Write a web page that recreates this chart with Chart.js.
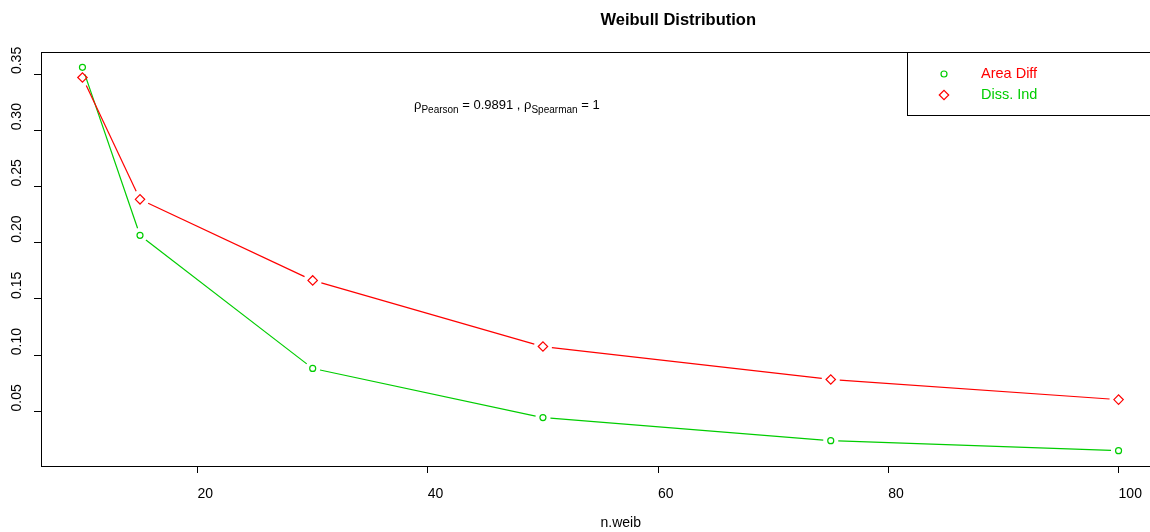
<!DOCTYPE html>
<html>
<head>
<meta charset="utf-8">
<script src="https://cdn.jsdelivr.net/npm/chart.js@4/dist/chart.umd.min.js"></script>
<style>
  html, body { margin: 0; padding: 0; background: #fff; overflow: hidden; }
  #wrap { width: 1170px; height: 532px; }
</style>
</head>
<body>
<div id="wrap"><canvas id="c" width="1170" height="532"></canvas></div>
<script>
// sample sizes and the two distance measures
const nWeib = [10, 15, 30, 50, 75, 100];
const areaDiff = [0.356, 0.2066, 0.0882, 0.0445, 0.0240, 0.0151];
const dissInd = [0.347, 0.2386, 0.1665, 0.1077, 0.0784, 0.0605];
const xTicks = [20, 40, 60, 80, 100];
const yTicks = [0.05, 0.10, 0.15, 0.20, 0.25, 0.30, 0.35];

const GREEN = "#00cd00";
const RED = "#ff0000";
const FONT = "'Liberation Sans', Arial, sans-serif";

// R style ranges: data range plus 4% each side
function padRange(vals) {
  const lo = Math.min(...vals), hi = Math.max(...vals);
  const d = (hi - lo) * 0.04;
  return [lo - d, hi + d];
}
const [xMin, xMax] = padRange(nWeib);
const [yMin, yMax] = padRange(areaDiff.concat(dissInd));

// lines of type "b": segments stop short of the symbols
const gappedLines = {
  id: "gappedLines",
  beforeDatasetsDraw(chart) {
    const ctx = chart.ctx;
    chart.data.datasets.forEach((ds, i) => {
      const pts = chart.getDatasetMeta(i).data;
      const gap = ds.gap;
      ctx.save();
      ctx.strokeStyle = ds.borderColor;
      ctx.lineWidth = 1.2;
      for (let k = 0; k < pts.length - 1; k++) {
        const a = pts[k], b = pts[k + 1];
        const dx = b.x - a.x, dy = b.y - a.y;
        const len = Math.hypot(dx, dy);
        if (len <= gap * 2) continue;
        const ux = dx / len, uy = dy / len;
        ctx.beginPath();
        ctx.moveTo(a.x + ux * gap, a.y + uy * gap);
        ctx.lineTo(b.x - ux * gap, b.y - uy * gap);
        ctx.stroke();
      }
      ctx.restore();
    });
  }
};

// box, rotated y labels, title, axis label, legend and the note
const decorations = {
  id: "decorations",
  afterDraw(chart) {
    const ctx = chart.ctx;
    const a = chart.chartArea;
    const ys = chart.scales.y;
    const mid = (a.left + a.right) / 2;
    ctx.save();
    ctx.strokeStyle = "#000";
    ctx.lineWidth = 1;
    ctx.strokeRect(a.left + 0.5, a.top + 0.5, a.right - a.left, a.bottom - a.top);

    // texts start at their anchor point
    ctx.fillStyle = "#000";
    ctx.font = "14px " + FONT;
    ctx.textAlign = "left";
    ctx.textBaseline = "middle";
    ys.ticks.forEach((t) => {
      const py = ys.getPixelForValue(t.value);
      ctx.save();
      ctx.translate(17, py);
      ctx.rotate(-Math.PI / 2);
      ctx.fillText(t.value.toFixed(2), 0, 0);
      ctx.restore();
    });

    ctx.font = "bold 16.5px " + FONT;
    ctx.fillText("Weibull Distribution", mid, 20);
    ctx.font = "14px " + FONT;
    ctx.fillText("n.weib", mid, 523);

    // correlation note with subscripts
    const parts = [
      ["ρ", 13, 0], ["Pearson", 10, 4], [" = 0.9891 , ", 13, 0],
      ["ρ", 13, 0], ["Spearman", 10, 4], [" = 1", 13, 0]
    ];
    let x = 414;
    ctx.textBaseline = "alphabetic";
    parts.forEach(([s, size, dy]) => {
      ctx.font = size + "px " + FONT;
      ctx.fillText(s, x, 109 + dy);
      x += ctx.measureText(s).width;
    });

    // legend
    ctx.strokeRect(907.5, a.top + 0.5, 300, 63);
    const entries = [
      { label: "Area Diff", marker: GREEN, text: RED, style: "circle", r: 3 },
      { label: "Diss. Ind", marker: RED, text: GREEN, style: "rectRot", r: 4.7 }
    ];
    ctx.font = "14.5px " + FONT;
    ctx.textBaseline = "middle";
    entries.forEach((e, k) => {
      const ly = 74 + k * 21;
      ctx.strokeStyle = e.marker;
      ctx.fillStyle = "#fff";
      ctx.lineWidth = 1.2;
      Chart.helpers.drawPoint(ctx, { pointStyle: e.style, radius: e.r, borderWidth: 1.2 }, 944, ly);
      ctx.fillStyle = e.text;
      ctx.fillText(e.label, 981, ly);
    });
    ctx.restore();
  }
};

new Chart(document.getElementById("c"), {
  type: "line",
  data: {
    datasets: [
      {
        label: "Area Diff",
        data: nWeib.map((n, i) => ({ x: n, y: areaDiff[i] })),
        borderColor: GREEN,
        backgroundColor: "rgba(0,0,0,0)",
        showLine: false,
        pointStyle: "circle",
        pointRadius: 3,
        pointBorderWidth: 1.2,
        gap: 7.5
      },
      {
        label: "Diss. Ind",
        data: nWeib.map((n, i) => ({ x: n, y: dissInd[i] })),
        borderColor: RED,
        backgroundColor: "rgba(0,0,0,0)",
        showLine: false,
        pointStyle: "rectRot",
        pointRadius: 4.7,
        pointBorderWidth: 1.2,
        gap: 9
      }
    ]
  },
  options: {
    responsive: false,
    animation: false,
    events: [],
    layout: { padding: { top: 52, right: 10, left: 0, bottom: 0 } },
    plugins: { legend: { display: false }, tooltip: { enabled: false } },
    scales: {
      x: {
        type: "linear",
        min: xMin,
        max: xMax,
        afterBuildTicks: (s) => { s.ticks = xTicks.map((v) => ({ value: v })); },
        afterFit: (s) => { s.height = 66; },
        border: { display: false },
        grid: { drawOnChartArea: false, tickLength: 7, color: "#000", tickWidth: 1 },
        ticks: {
          color: "#000",
          font: { family: FONT, size: 14 },
          padding: 13,
          align: "start",
          maxRotation: 0,
          callback: (v) => String(v)
        }
      },
      y: {
        min: yMin,
        max: yMax,
        afterBuildTicks: (s) => { s.ticks = yTicks.map((v) => ({ value: v })); },
        afterFit: (s) => { s.width = 41; },
        border: { display: false },
        grid: { drawOnChartArea: false, tickLength: 7, color: "#000", tickWidth: 1 },
        ticks: { display: false }
      }
    }
  },
  plugins: [gappedLines, decorations]
});
</script>
</body>
</html>
